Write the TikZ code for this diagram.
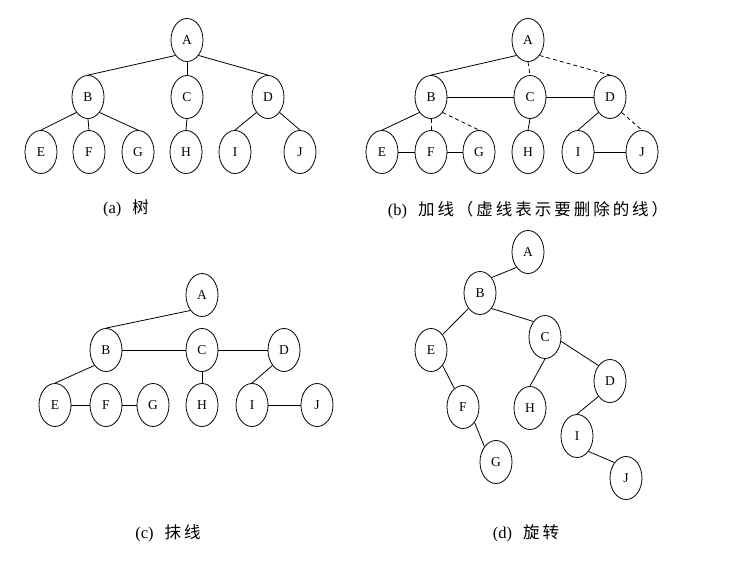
\documentclass[tikz,border=0pt]{standalone}
\usepackage{fontspec}
\setmainfont{Liberation Serif}
\newfontfamily\cjk[LetterSpace=18]{Noto Sans CJK SC}
\usetikzlibrary{shapes.geometric}

\tikzset{
  vtx/.style={ellipse, draw, line width=0.8pt, minimum width=32pt, minimum height=43pt,
              inner sep=0pt, font=\fontsize{13.5}{13.5}\selectfont},
  link/.style={line width=0.8pt},
  cut/.style={line width=0.8pt, dash pattern=on 4pt off 3pt},
  subcap/.style={font=\fontsize{16.5}{16.5}\selectfont}
}
\newcommand{\lbl}[1]{\raisebox{-2.5pt}{#1}}

\begin{document}
\begin{tikzpicture}[x=1pt, y=-1pt]
  \useasboundingbox (0,0) rectangle (737,566);
  % (a) the tree
  \foreach \n/\x/\y in {A/187/40, B/88/97, C/187/97, D/268/97, E/41/152, F/89/152,
                        G/138/152, H/186/152, I/235/152, J/300/152}
    \node[vtx] (a\n) at (\x,\y) {\lbl{\n}};
  \foreach \u/\a/\v in {A/south west/B, A/south/C, A/south east/D, B/south west/E,
                        B/south/F, B/south east/G, C/south/H, D/south west/I, D/south east/J}
    \draw[link] (a\u.\a) -- (a\v.north);
  \node[subcap] (capa) at (126,208) {(a)\hspace{11pt}{\cjk 树}};

  % (b) add lines
  \foreach \n/\x/\y in {A/528/40, B/431/97, C/530/97, D/610/97, E/382/152, F/431/152,
                        G/479/152, H/528/152, I/578/152, J/642/152}
    \node[vtx] (b\n) at (\x,\y) {\lbl{\n}};
  \foreach \u/\a/\v in {A/south west/B, B/south west/E, C/south/H, D/south west/I}
    \draw[link] (b\u.\a) -- (b\v.north);
  \foreach \u/\a/\v in {A/south/C, A/south east/D, B/south/F, B/south east/G, D/south east/J}
    \draw[cut] (b\u.\a) -- (b\v.north);
  \foreach \u/\v in {B/C, C/D, E/F, F/G, I/J}
    \draw[link] (b\u) -- (b\v);
  \node[subcap] (capb) at (528,210) {(b)\hspace{11pt}{\cjk 加线（虚线表示要删除的线）}};

  % (c) remove lines
  \foreach \n/\x/\y in {A/202/295, B/106/350, C/202/350, D/284/350, E/55/405, F/106/405,
                        G/153/405, H/202/405, I/252/405, J/317/405}
    \node[vtx] (c\n) at (\x,\y) {\lbl{\n}};
  \foreach \u/\a/\v in {A/south west/B, B/south west/E, C/south/H, D/south west/I}
    \draw[link] (c\u.\a) -- (c\v.north);
  \foreach \u/\v in {B/C, C/D, E/F, F/G, I/J}
    \draw[link] (c\u) -- (c\v);
  \node[subcap] (capc) at (168,533) {(c)\hspace{11pt}{\cjk 抹线}};

  % (d) rotate
  \foreach \n/\x/\y in {A/528/252, B/480/293, C/545/337, D/610/381, E/431/350, F/463/407,
                        H/530/408, I/577/436, G/496/462, J/626/478}
    \node[vtx] (d\n) at (\x,\y) {\lbl{\n}};
  \foreach \u/\a/\v/\b in {A/south west/B/north east, B/south west/E/north east,
                           B/south east/C/north west, E/south east/F/115, F/south east/G/north west,
                           C/south/H/north, C/-15/D/north west, D/south west/I/north,
                           I/south east/J/north west}
    \draw[link] (d\u.\a) -- (d\v.\b);
  \node[subcap] (capd) at (526,533) {(d)\hspace{11pt}{\cjk 旋转}};
\end{tikzpicture}
\end{document}
